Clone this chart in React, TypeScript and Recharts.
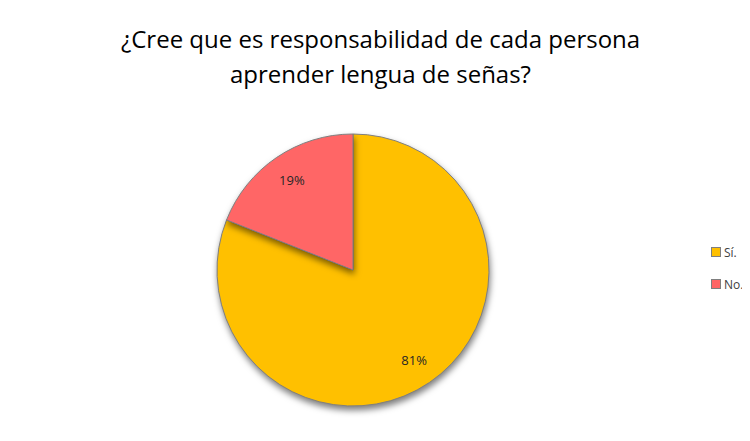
import React from 'react';
import { PieChart, Pie, Cell, Legend } from 'recharts';

const categories = ['Sí.', 'No.'];
const values = [81, 19];
const colors = ['#FFC000', '#FF6666'];

const data = categories.map((name, i) => ({ name, value: values[i] }));

const font = '"Open Sans", "Noto Sans", sans-serif';

const renderLabel = (props: any) => {
  const { cx, cy, midAngle, outerRadius, percent } = props;
  const RAD = Math.PI / 180;
  const r = outerRadius * 0.8;
  const x = cx + r * Math.cos(-midAngle * RAD);
  const y = cy + r * Math.sin(-midAngle * RAD);
  return (
    <text
      x={x}
      y={y}
      textAnchor="middle"
      dominantBaseline="central"
      style={{ fontFamily: font, fontSize: 13, fill: '#262626' }}
    >
      {`${Math.round(percent * 100)}%`}
    </text>
  );
};

const LegendBox = () => (
  <div style={{ fontFamily: font, fontSize: 12, color: '#404040' }}>
    {data.map((d, i) => (
      <div
        key={d.name}
        style={{ display: 'flex', alignItems: 'center', height: 16, marginBottom: i === 0 ? 16 : 0, whiteSpace: 'nowrap' }}
      >
        <span
          style={{
            display: 'inline-block',
            width: 8,
            height: 8,
            background: colors[i],
            border: '1px solid #7f7f7f',
            marginRight: 3,
          }}
        />
        {d.name}
      </div>
    ))}
  </div>
);

export default function App() {
  return (
    <div style={{ position: 'relative', width: 750, height: 441, margin: -8, background: '#fff', overflow: 'hidden' }}>
      <style>{`.recharts-pie-sector path { filter: drop-shadow(1px 4px 3px rgba(0,0,0,0.5)); }`}</style>
      <div
        style={{
          position: 'absolute',
          left: 0,
          top: 21,
          width: 761,
          textAlign: 'center',
          fontFamily: font,
          fontSize: 24,
          lineHeight: '35px',
          color: '#000',
        }}
      >
        ¿Cree que es responsabilidad de cada persona
        <br />
        aprender lengua de señas?
      </div>
      <PieChart width={750} height={441} margin={{ top: 0, right: 0, bottom: 0, left: 0 }} style={{ position: 'absolute', left: 0, top: 0 }}>
        <Pie
          data={data}
          dataKey="value"
          nameKey="name"
          cx={353}
          cy={270}
          outerRadius={136}
          startAngle={90}
          endAngle={-270}
          stroke="#7f7f7f"
          strokeWidth={1}
          label={renderLabel}
          labelLine={false}
          isAnimationActive={false}
        >
          {data.map((d, i) => (
            <Cell key={d.name} fill={colors[i]} />
          ))}
        </Pie>
        <Legend
          layout="vertical"
          align="right"
          verticalAlign="top"
          wrapperStyle={{ left: 711, top: 244, width: 39 }}
          content={<LegendBox />}
        />
      </PieChart>
      <div
        style={{
          position: 'absolute',
          left: 5,
          top: 7,
          width: 800,
          height: 500,
          borderTop: '1px solid #c8ccd6',
          borderLeft: '1px solid #c8ccd6',
          zIndex: 5,
          pointerEvents: 'none',
        }}
      />
    </div>
  );
}
